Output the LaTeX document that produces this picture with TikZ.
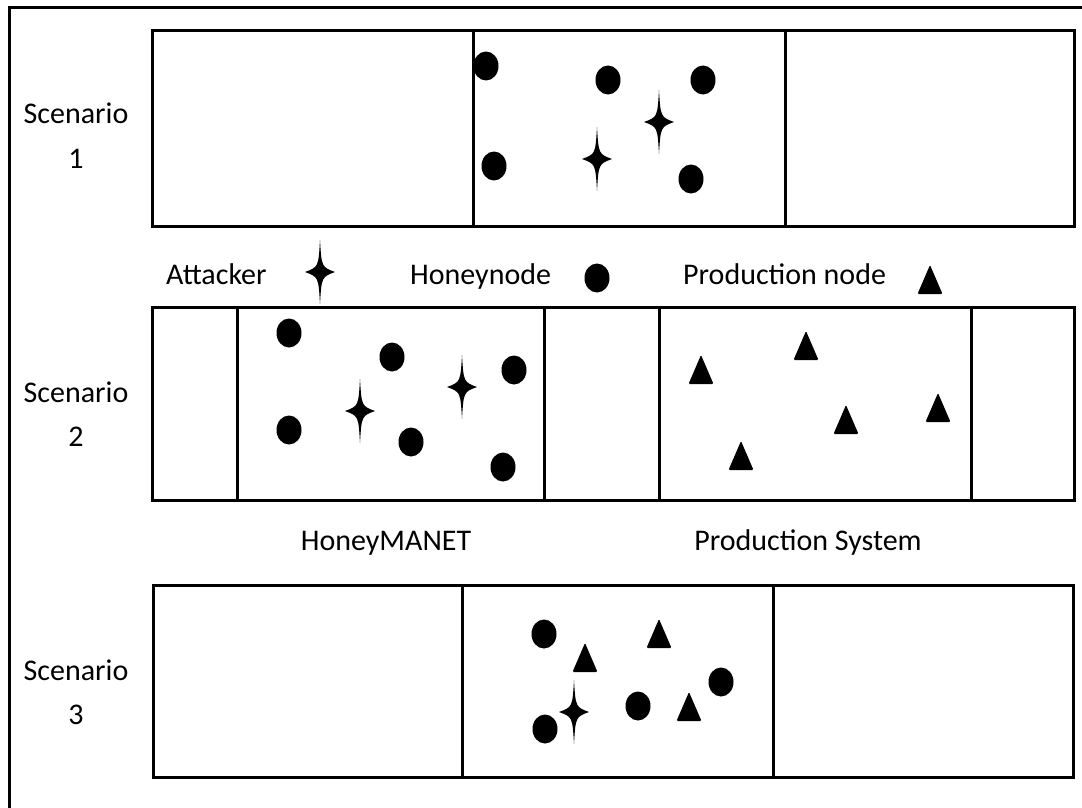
\documentclass[tikz,border=0pt]{standalone}
\usepackage{fontspec}
\setmainfont{Carlito}
\begin{document}
\begin{tikzpicture}[x=1pt, y=-1pt,
  frameline/.style={line width=3pt},
  panel/.style={draw, line width=3pt},
  lbl/.style={font=\fontsize{30}{36}\selectfont, inner sep=0pt},
  honey/.pic={\fill (0,0) ellipse [x radius=12.5, y radius=14.5];},
  prod/.pic={\fill[rounded corners=1.2pt] (0,-15) -- (12.5,14) -- (-12.5,14) -- cycle;},
  attacker/.pic={\fill (0,-32) .. controls (1.6,-5) .. (15,0) .. controls (1.6,5) .. (0,32)
                   .. controls (-1.6,5) .. (-15,0) .. controls (-1.6,-5) .. cycle;}]
\useasboundingbox (0,0) rectangle (1082,808);

% outer frame (only its top and left sides fall inside the page)
\draw[frameline] (9,808) -- (9,8) -- (1082,8);

% ---------- Scenario 1 ----------
\draw[panel] (152,31) rectangle (1074,226);
\draw[panel] (473,31) -- (473,226);
\draw[panel] (785,31) -- (785,226);
\node[lbl, anchor=base] (s1a) at (76,124) {Scenario};
\node[lbl, anchor=base] (s1b) at (76,168) {1};
\pic (a1h1) at (486,66) {honey};
\pic (a1h2) at (494,166) {honey};
\pic (a1h3) at (608,80) {honey};
\pic (a1h4) at (703,80) {honey};
\pic (a1h5) at (691,179) {honey};
\pic (a1x1) at (659,122) {attacker};
\pic (a1x2) at (597,159) {attacker};

% ---------- legend ----------
\node[lbl, anchor=base west] (lgA) at (166,284) {Attacker};
\pic (lgAs) at (320,272) {attacker};
\node[lbl, anchor=base west] (lgH) at (410,284) {Honeynode};
\pic (lgHs) at (597,278) {honey};
\node[lbl, anchor=base west] (lgP) at (683,284) {Production node};
\pic (lgPs) at (930,280) {prod};

% ---------- Scenario 2 ----------
\draw[panel] (152,307) rectangle (1074,500);
\foreach \x in {237,544,659,971} \draw[panel] (\x,307) -- (\x,500);
\node[lbl, anchor=base] (s2a) at (76,402) {Scenario};
\node[lbl, anchor=base] (s2b) at (76,446) {2};
\pic (b1) at (289,333) {honey};
\pic (b2) at (392,357) {honey};
\pic (b3) at (514,370) {honey};
\pic (b4) at (289,430) {honey};
\pic (b5) at (411,442) {honey};
\pic (b6) at (503,467) {honey};
\pic (bx1) at (360,411) {attacker};
\pic (bx2) at (462,387) {attacker};
\pic (bp1) at (701,370) {prod};
\pic (bp2) at (806,346) {prod};
\pic (bp3) at (846,420) {prod};
\pic (bp4) at (938,408) {prod};
\pic (bp5) at (741,456) {prod};
\node[lbl, anchor=base] (hm) at (386,550) {HoneyMANET};
\node[lbl, anchor=base] (ps) at (808,550) {Production System};

% ---------- Scenario 3 ----------
\draw[panel] (153,585) rectangle (1073,777);
\draw[panel] (462,585) -- (462,777);
\draw[panel] (773,585) -- (773,777);
\node[lbl, anchor=base] (s3a) at (76,680) {Scenario};
\node[lbl, anchor=base] (s3b) at (76,724) {3};
\pic (c1) at (544,634) {honey};
\pic (c2) at (721,682) {honey};
\pic (c3) at (638,706) {honey};
\pic (c4) at (545,729) {honey};
\pic (cp1) at (585,658) {prod};
\pic (cp2) at (659,634) {prod};
\pic (cp3) at (689,707) {prod};
\pic (cx1) at (574,712) {attacker};
\end{tikzpicture}
\end{document}
